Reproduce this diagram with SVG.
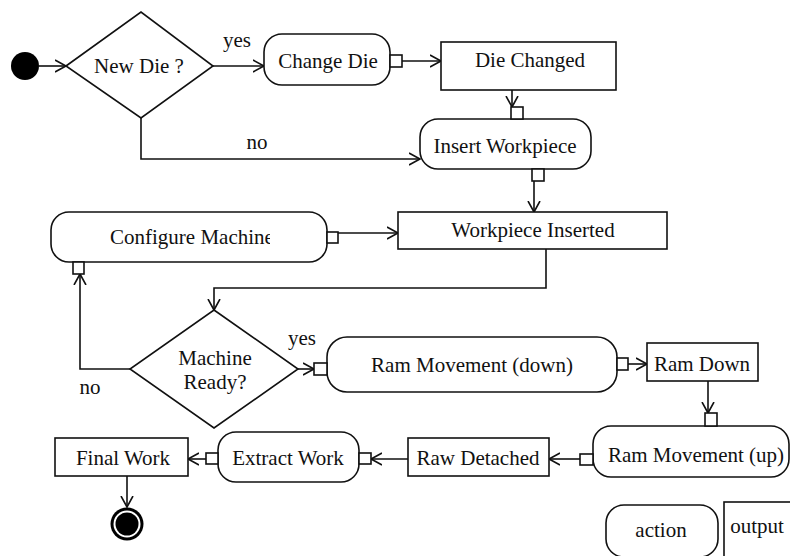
<svg xmlns="http://www.w3.org/2000/svg" width="790" height="556" viewBox="0 0 790 556">
<defs>
<style>
.n{fill:#fff;stroke:#111;stroke-width:1.6}
.pin{fill:#fff;stroke:#111;stroke-width:1.6}
.c{fill:none;stroke:#111;stroke-width:1.6;marker-end:url(#ah)}
.cn{fill:none;stroke:#111;stroke-width:1.6}
text{font-family:"Liberation Serif","Times New Roman",serif;font-size:21px;fill:#111}
.m{text-anchor:middle}
</style>
<marker id="ah" markerUnits="userSpaceOnUse" markerWidth="14" markerHeight="14" refX="11" refY="6" orient="auto" viewBox="0 0 14 12">
<path d="M0,0 L11,6 L0,12" fill="none" stroke="#111" stroke-width="1.6"/>
</marker>
<clipPath id="cfgclip"><rect x="100" y="215" width="170" height="40"/></clipPath>
</defs>
<rect width="790" height="556" fill="#fff"/>

<g id="connectors">
<path class="c" d="M39,66 H66"/>
<path class="c" d="M213,66 H264"/>
<path class="c" d="M402,61 H441"/>
<path class="c" d="M512,90 V107"/>
<path class="c" d="M141,118 V159 H420"/>
<path class="c" d="M534,181 V212"/>
<path class="c" d="M338,233 H398"/>
<path class="c" d="M546,249 V288 H214 V310"/>
<path class="c" d="M130,369 H80 V274"/>
<path class="c" d="M298,369 H314"/>
<path class="c" d="M628,364 H647"/>
<path class="c" d="M708,381 V413"/>
<path class="c" d="M580,459 H549"/>
<path class="c" d="M408,459 H371"/>
<path class="c" d="M206,459 H188"/>
<path class="c" d="M127,476 V507"/>
<text x="237" y="47" class="m">yes</text>
<text x="257" y="149" class="m">no</text>
<text x="302" y="345" class="m">yes</text>
<text x="90" y="394" class="m">no</text>
</g>

<g id="start"><circle cx="25" cy="66" r="14" fill="#000"/></g>

<g id="newDie">
<polygon class="n" points="66,66 141,12 213,66 141,118"/>
<text x="139" y="73" class="m">New Die ?</text>
</g>

<g id="changeDie">
<rect class="n" x="264" y="34" width="126" height="51" rx="18"/>
<text x="328" y="68" class="m">Change Die</text>
<rect class="pin" x="390" y="55" width="12" height="12"/>
</g>

<g id="dieChanged">
<rect class="n" x="441" y="42" width="175" height="48"/>
<text x="530" y="67" class="m">Die Changed</text>
</g>

<g id="insertWorkpiece">
<rect class="n" x="420" y="119" width="171" height="50" rx="18"/>
<text x="505" y="153" class="m">Insert Workpiece</text>
<rect class="pin" x="511" y="107" width="12" height="12"/>
<rect class="pin" x="532" y="169" width="12" height="12"/>
</g>

<g id="configureMachine">
<rect class="n" x="51" y="212" width="276" height="50" rx="18"/>
<text x="110" y="244" clip-path="url(#cfgclip)">Configure Machine</text>
<rect class="pin" x="327" y="232" width="11" height="11"/>
<rect class="pin" x="73" y="262" width="11" height="12"/>
</g>

<g id="workpieceInserted">
<rect class="n" x="398" y="212" width="269" height="37"/>
<text x="533" y="237" class="m">Workpiece Inserted</text>
</g>

<g id="machineReady">
<polygon class="n" points="214,310 298,369 214,428 130,369"/>
<text x="215" y="365" class="m">Machine</text>
<text x="215" y="389" class="m">Ready?</text>
</g>

<g id="ramMovementDown">
<rect class="n" x="327" y="337" width="290" height="55" rx="20"/>
<text x="472" y="372" class="m">Ram Movement (down)</text>
<rect class="pin" x="314" y="363" width="13" height="12"/>
<rect class="pin" x="617" y="358" width="11" height="12"/>
</g>

<g id="ramDown">
<rect class="n" x="647" y="343" width="111" height="38"/>
<text x="702" y="371" class="m">Ram Down</text>
</g>

<g id="ramMovementUp">
<rect class="n" x="593" y="426" width="196" height="51" rx="18"/>
<text x="696" y="462" class="m">Ram Movement (up)</text>
<rect class="pin" x="705" y="413" width="12" height="13"/>
<rect class="pin" x="580" y="454" width="13" height="11"/>
</g>

<g id="rawDetached">
<rect class="n" x="408" y="438" width="141" height="38"/>
<text x="478" y="465" class="m">Raw Detached</text>
</g>

<g id="extractWork">
<rect class="n" x="218" y="432" width="141" height="50" rx="18"/>
<text x="288" y="465" class="m">Extract Work</text>
<rect class="pin" x="359" y="453" width="12" height="11"/>
<rect class="pin" x="206" y="453" width="12" height="11"/>
</g>

<g id="finalWork">
<rect class="n" x="55" y="438" width="133" height="38"/>
<text x="123" y="465" class="m">Final Work</text>
</g>

<g id="end">
<circle cx="127" cy="524" r="16.5" fill="#000"/>
<circle cx="127" cy="524" r="13.5" fill="#fff"/>
<circle cx="127" cy="524" r="11.5" fill="#000"/>
</g>

<g id="legendAction">
<rect class="n" x="606" y="505" width="112" height="52" rx="18"/>
<text x="661" y="537" class="m">action</text>
</g>

<g id="legendOutput">
<rect class="n" x="724" y="502" width="80" height="60"/>
<text x="757" y="533" class="m">output</text>
</g>
</svg>
